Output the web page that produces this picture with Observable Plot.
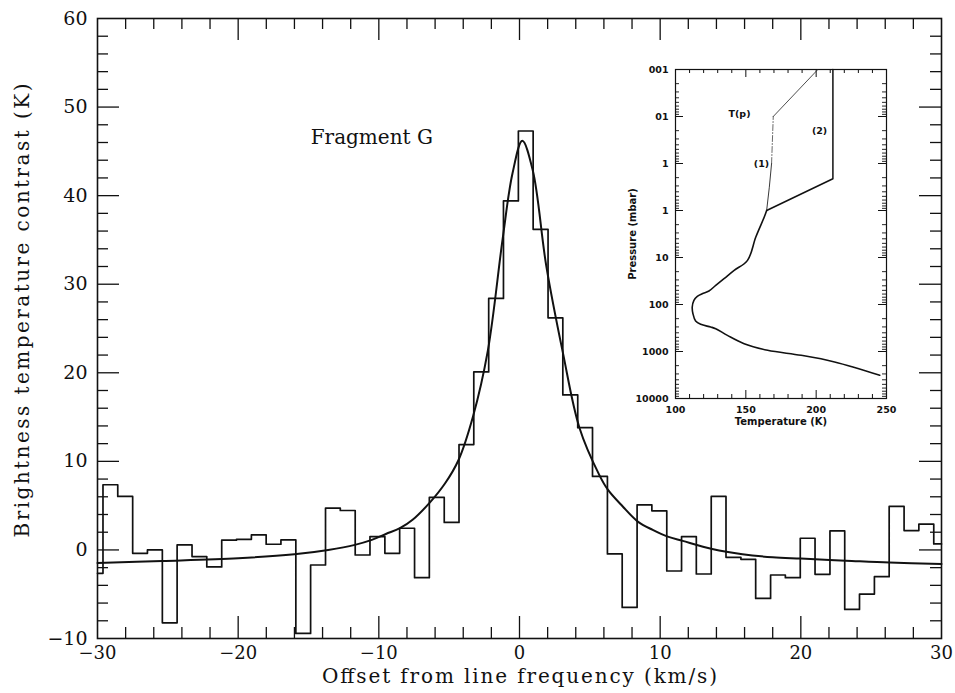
<!DOCTYPE html>
<html>
<head>
<meta charset="utf-8">
<script src="https://cdn.jsdelivr.net/npm/d3@7"></script>
<script src="https://cdn.jsdelivr.net/npm/@observablehq/plot@0.6"></script>
<style>
  html, body { margin: 0; padding: 0; background: #fff; }
  #wrap { position: relative; width: 955px; height: 693px; overflow: hidden; }
  #inset { position: absolute; left: 600px; top: 55px; width: 300px; height: 375px; }
  svg { max-width: none !important; }
</style>
</head>
<body>
<div id="wrap"><div id="main"></div><div id="inset"></div></div>
<script>
// ---------- Main panel data ----------
const binStart = [-30, -29.61, -28.56, -27.50, -26.45, -25.39, -24.34, -23.28, -22.23, -21.17,
  -20.12, -19.06, -18.01, -16.96, -15.90, -14.85, -13.79, -12.74, -11.68, -10.63,
  -9.57, -8.52, -7.46, -6.41, -5.35, -4.30, -3.25, -2.19, -1.14, -0.08,
  0.97, 2.03, 3.08, 4.14, 5.19, 6.25, 7.30, 8.36, 9.41, 10.47,
  11.52, 12.57, 13.63, 14.68, 15.74, 16.79, 17.85, 18.90, 19.96, 21.01,
  22.07, 23.12, 24.17, 25.23, 26.28, 27.34, 28.39, 29.45];
const binEnd = 30;
const brightness = [-2.64, 7.36, 6.04, -0.38, 0.0, -8.23, 0.57, -0.75, -1.92, 1.1,
  1.2, 1.70, 0.64, 1.13, -9.43, -1.70, 4.72, 4.45, -0.57, 1.51,
  -0.38, 2.45, -3.13, 5.93, 3.1, 11.9, 20.1, 28.4, 39.4, 47.3,
  36.2, 26.2, 17.5, 13.8, 8.3, -0.45, -6.49, 5.09, 4.42, -2.38,
  1.51, -2.72, 6.04, -0.83, -1.06, -5.47, -2.83, -3.13, 1.32, -2.75,
  2.15, -6.72, -4.98, -3.02, 4.91, 2.19, 2.91, 0.68];

const fitVelocity = [-30, -25.4, -20, -16, -13.6, -11.7, -10.5, -9.5, -8.5, -7.6,
  -6.35, -5.3, -4.35, -3.3, -2.25, -1.2, -0.5, 0.2, 0.95, 1.9,
  3.08, 4.26, 5.66, 6.28, 7.34, 8.41, 9.47, 10.54, 11.6, 13.7,
  15.85, 18.0, 20.0, 23.2, 26.3, 30];
const fitBrightness = [-1.47, -1.25, -0.94, -0.49, 0.0, 0.57, 1.13, 1.8, 2.45, 3.4,
  5.4, 7.5, 10.1, 15.1, 22.5, 35.1, 42.5, 46.2, 42.8, 32.1,
  22.3, 13.8, 8.5, 6.8, 4.9, 3.2, 2.26, 1.5, 1.02, 0.11,
  -0.49, -0.83, -0.98, -1.21, -1.43, -1.58];

const xTickLabels = [-30, -20, -10, 0, 10, 20, 30];
const yTickLabels = [-10, 0, 10, 20, 30, 40, 50, 60];
const panelLabel = [{x: -10.5, y: 46.6, text: "Fragment G"}];
const xTitle = "Offset from line frequency (km/s)";
const yTitle = "Brightness temperature contrast (K)";

// ---------- Inset data ----------
const profileT = [245.2, 213.1, 189.3, 165.5, 148.8, 136.9, 128.6, 125.0, 117.9, 114.3,
  112.4, 111.9, 113.1, 115.5, 119.0, 123.8, 128.6, 134.5, 141.7, 151.2,
  157.1, 163.1, 164.8];
const profileP = [3206, 1667, 1205, 944, 681, 453, 327, 301, 264, 224,
  157, 113, 81.5, 67, 58.9, 51.6, 39.2, 28.2, 18.8, 11.5,
  3.67, 1.38, 1.0];
const branch1T = [164.8, 166.7, 168.3];
const branch1P = [1.0, 0.32, 0.1];
const branch1MidT = [168.3, 169.5];
const branch1MidP = [0.1, 0.01];
const branch1TopT = [169.5, 201.2];
const branch1TopP = [0.01, 0.001];
const branch2T = [164.8, 211.9, 211.9];
const branch2P = [1.0, 0.211, 0.001];
const tempTicks = [100, 150, 200, 250];
const pressTicks = [0.001, 0.01, 0.1, 1, 10, 100, 1000, 10000];
const pressTickLabels = ["001", "01", "1", "1", "10", "100", "1000", "10000"];
const insetLabels = [
  {T: 145.5, p: 0.0087, text: "T(p)"},
  {T: 202.4, p: 0.020, text: "(2)"},
  {T: 161.1, p: 0.1, text: "(1)"}
];

// ---------- Main chart ----------
const W = 955, H = 693, mL = 97, mR = 14, mT = 18, mB = 55;
const fh = H - mT - mB, fw = W - mL - mR;
const majLen = 22, minLen = 11;

const steps = binStart.map((x, i) => ({x, y: brightness[i]}));
steps.push({x: binEnd, y: brightness[brightness.length - 1]});
const fit = fitVelocity.map((x, i) => ({x, y: fitBrightness[i]}));

const xMinor = d3.range(-28, 30, 2).filter(v => v % 10 !== 0);
const xMajor = xTickLabels.filter(v => v > -30 && v < 30);
const yMinor = d3.range(-8, 60, 2).filter(v => v % 10 !== 0);
const yMajor = yTickLabels.filter(v => v > -10 && v < 60);

const main = Plot.plot({
  width: W, height: H,
  marginLeft: mL, marginRight: mR, marginTop: mT, marginBottom: mB,
  style: {fontFamily: "'DejaVu Serif', serif", fontSize: "19px", color: "#111", background: "#fff"},
  x: {domain: [-30, 30]},
  y: {domain: [-10, 60]},
  marks: [
    Plot.ruleX(xMinor, {x: d => d, insetTop: fh - minLen, strokeWidth: 1.3}),
    Plot.ruleX(xMinor, {x: d => d, insetBottom: fh - minLen, strokeWidth: 1.3}),
    Plot.ruleX(xMajor, {x: d => d, insetTop: fh - majLen, strokeWidth: 1.3}),
    Plot.ruleX(xMajor, {x: d => d, insetBottom: fh - majLen, strokeWidth: 1.3}),
    Plot.ruleY(yMinor, {y: d => d, insetRight: fw - minLen, strokeWidth: 1.3}),
    Plot.ruleY(yMinor, {y: d => d, insetLeft: fw - minLen, strokeWidth: 1.3}),
    Plot.ruleY(yMajor, {y: d => d, insetRight: fw - majLen, strokeWidth: 1.3}),
    Plot.ruleY(yMajor, {y: d => d, insetLeft: fw - majLen, strokeWidth: 1.3}),
    Plot.axisX(xTickLabels, {tickSize: 0, tickPadding: 8, label: null, fontSize: 18}),
    Plot.axisY(yTickLabels, {tickSize: 0, tickPadding: 10, label: null}),
    Plot.frame({strokeWidth: 1.6}),
    Plot.line(steps, {x: "x", y: "y", curve: "step-after", strokeWidth: 1.7, stroke: "#111"}),
    Plot.line(fit, {x: "x", y: "y", curve: "catmull-rom", strokeWidth: 2, stroke: "#111"}),
    Plot.text(panelLabel, {x: "x", y: "y", text: "text", fontSize: 20, textAnchor: "middle"}),
    Plot.text([xTitle], {frameAnchor: "bottom", textAnchor: "middle", lineAnchor: "bottom", dy: 44, fontSize: 20}),
    Plot.text([yTitle], {frameAnchor: "left", textAnchor: "middle", rotate: -90, dx: -75, dy: -18, fontSize: 20})
  ]
});
// stretch the axis titles to the reference's wide letter spacing
d3.select(main).selectAll("text").each(function () {
  const t = this.textContent;
  if (t === xTitle) d3.select(this).attr("textLength", 395).attr("lengthAdjust", "spacing");
  if (t === yTitle) d3.select(this).attr("textLength", 454).attr("lengthAdjust", "spacing");
});
document.getElementById("main").appendChild(main);

// ---------- Inset chart ----------
const iW = 300, iH = 375, iL = 75, iR = 14, iT = 14, iB = 32;
const ifh = iH - iT - iB, ifw = iW - iL - iR;
const profile = profileT.map((T, i) => ({T, p: profileP[i]}));
const b1 = branch1T.map((T, i) => ({T, p: branch1P[i]}));
const b1m = branch1MidT.map((T, i) => ({T, p: branch1MidP[i]}));
const b1t = branch1TopT.map((T, i) => ({T, p: branch1TopP[i]}));
const b2 = branch2T.map((T, i) => ({T, p: branch2P[i]}));

const tMinor = d3.range(110, 250, 10).filter(v => v % 50 !== 0);
const tMajor = [150, 200];
const pMinor = [];
for (let e = -3; e < 4; e++) for (let m = 2; m <= 9; m++) pMinor.push(m * Math.pow(10, e));
const pMajor = pressTicks.slice(1, -1);
const pLabel = new Map(pressTicks.map((p, i) => [p, pressTickLabels[i]]));

const inset = Plot.plot({
  width: iW, height: iH,
  marginLeft: iL, marginRight: iR, marginTop: iT, marginBottom: iB,
  style: {fontFamily: "'DejaVu Sans', sans-serif", fontSize: "9.5px", fontWeight: "bold", color: "#111", background: "transparent"},
  x: {domain: [100, 250]},
  y: {type: "log", domain: [0.001, 10000], reverse: true},
  marks: [
    Plot.ruleX(tMinor, {x: d => d, insetTop: ifh - 4, strokeWidth: 1}),
    Plot.ruleX(tMinor, {x: d => d, insetBottom: ifh - 4, strokeWidth: 1}),
    Plot.ruleX(tMajor, {x: d => d, insetTop: ifh - 8, strokeWidth: 1}),
    Plot.ruleX(tMajor, {x: d => d, insetBottom: ifh - 8, strokeWidth: 1}),
    Plot.ruleY(pMinor, {y: d => d, insetRight: ifw - 4, strokeWidth: 0.9}),
    Plot.ruleY(pMinor, {y: d => d, insetLeft: ifw - 4, strokeWidth: 0.9}),
    Plot.ruleY(pMajor, {y: d => d, insetRight: ifw - 8, strokeWidth: 1}),
    Plot.ruleY(pMajor, {y: d => d, insetLeft: ifw - 8, strokeWidth: 1}),
    Plot.axisX(tempTicks, {tickSize: 0, tickPadding: 8, label: null}),
    Plot.axisY(pressTicks, {tickSize: 0, tickPadding: 7, label: null, tickFormat: d => pLabel.get(d)}),
    Plot.frame({strokeWidth: 1.2}),
    Plot.line(profile, {x: "T", y: "p", curve: "catmull-rom", strokeWidth: 1.6, stroke: "#111"}),
    Plot.line(b1, {x: "T", y: "p", strokeWidth: 0.9, stroke: "#222"}),
    Plot.line(b1m, {x: "T", y: "p", strokeWidth: 0.8, stroke: "#444", strokeDasharray: "6,2,1,2"}),
    Plot.line(b1t, {x: "T", y: "p", strokeWidth: 0.8, stroke: "#222"}),
    Plot.line(b2, {x: "T", y: "p", strokeWidth: 1.5, stroke: "#111"}),
    Plot.text(insetLabels, {x: "T", y: "p", text: "text", fontSize: 9.5}),
    Plot.text(["Temperature (K)"], {frameAnchor: "bottom", textAnchor: "middle", dy: 26, fontSize: 10}),
    Plot.text(["Pressure (mbar)"], {frameAnchor: "left", textAnchor: "middle", rotate: -90, dx: -43, fontSize: 10})
  ]
});
document.getElementById("inset").appendChild(inset);
</script>
</body>
</html>
